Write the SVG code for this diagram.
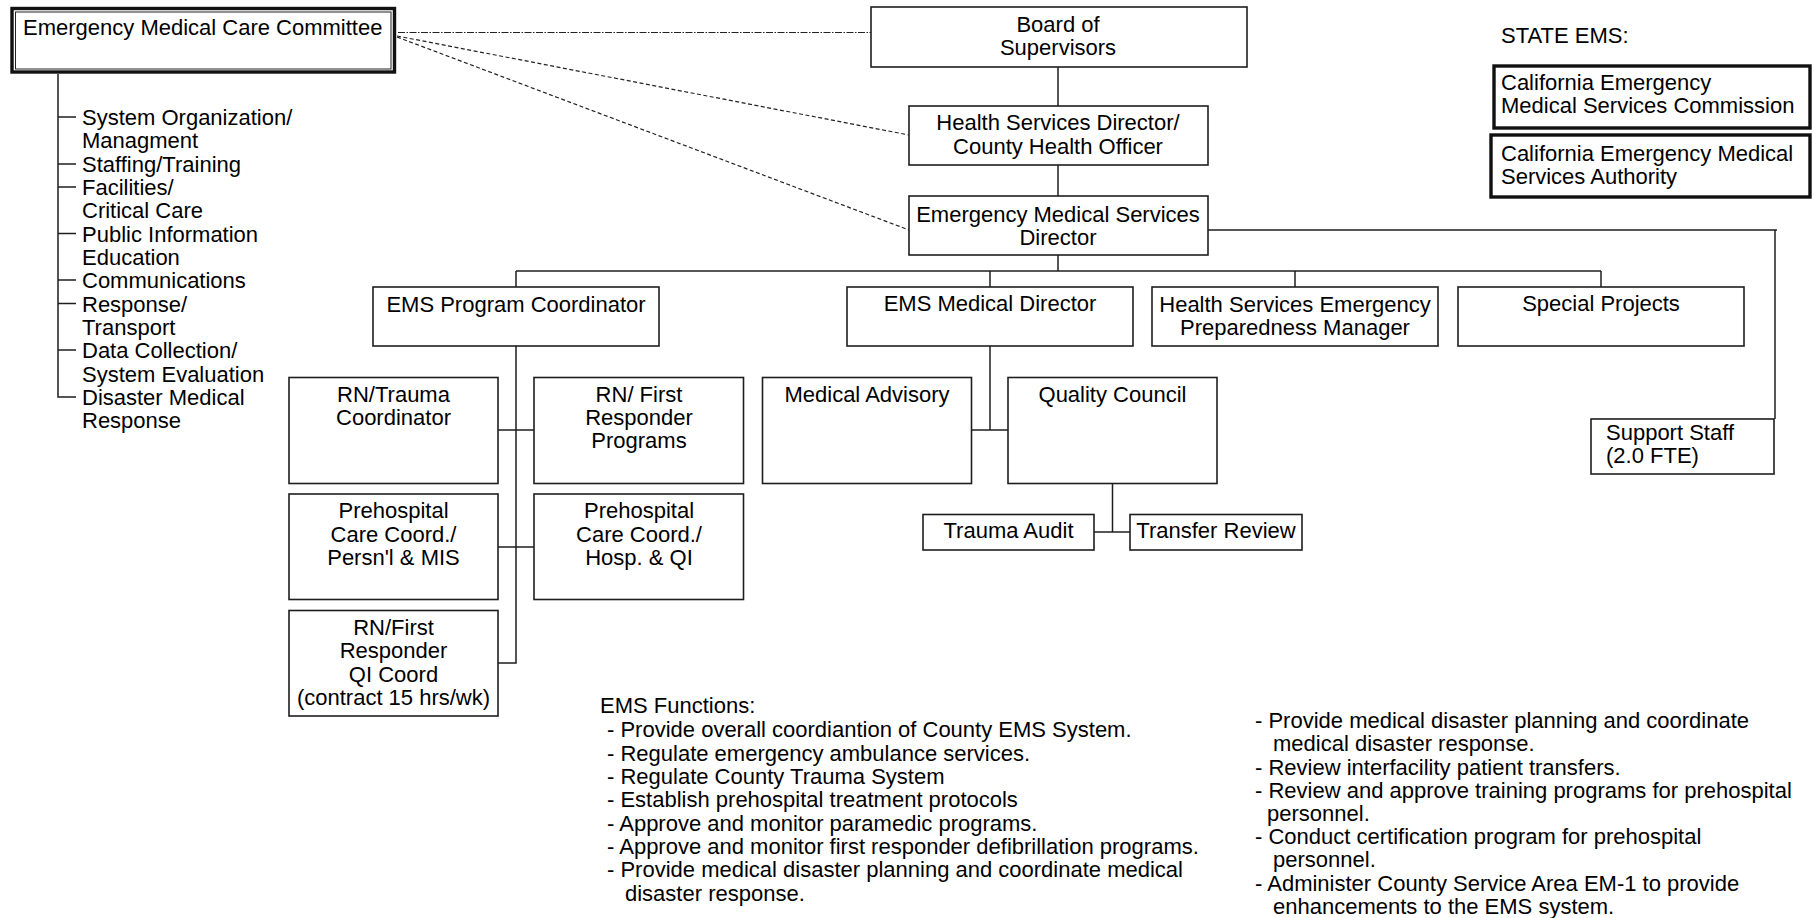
<svg xmlns="http://www.w3.org/2000/svg" width="1814" height="918" viewBox="0 0 1814 918">
<style>
.bx{fill:#fff;stroke:#1e1e1e;stroke-width:1.6}
.thk{fill:#fff;stroke:#111;stroke-width:3.4}
.ln{fill:none;stroke:#1e1e1e;stroke-width:1.5}
.dsh{fill:none;stroke:#222;stroke-width:1.2;stroke-dasharray:4 2.5}
.dd{fill:none;stroke:#222;stroke-width:1.2;stroke-dasharray:7 1.5 1.5 1.5}
text{font-family:"Liberation Sans",Arial,sans-serif;font-size:22px;fill:#000}
.c{text-anchor:middle}
</style>
<rect width="1814" height="918" fill="#fff"/>

<g id="connectors">
  <line class="dd" x1="398" y1="32.5" x2="871" y2="32.5"/>
  <line class="dsh" x1="397" y1="36" x2="909" y2="135"/>
  <line class="dsh" x1="397" y1="37" x2="909" y2="230"/>
  <line class="ln" x1="1058" y1="67" x2="1058" y2="106"/>
  <line class="ln" x1="1058" y1="165" x2="1058" y2="196"/>
  <line class="ln" x1="1058" y1="255" x2="1058" y2="271"/>
  <line class="ln" x1="516" y1="271" x2="1601" y2="271"/>
  <line class="ln" x1="516" y1="271" x2="516" y2="287"/>
  <line class="ln" x1="990" y1="271" x2="990" y2="287"/>
  <line class="ln" x1="1295" y1="271" x2="1295" y2="287"/>
  <line class="ln" x1="1601" y1="271" x2="1601" y2="287"/>
  <polyline class="ln" points="1208,230 1777,230"/>
  <line class="ln" x1="1775" y1="230" x2="1775" y2="419"/>
  <polyline class="ln" points="516,346 516,663 498,663"/>
  <line class="ln" x1="498" y1="430" x2="534" y2="430"/>
  <line class="ln" x1="498" y1="547" x2="534" y2="547"/>
  <line class="ln" x1="990" y1="346" x2="990" y2="430"/>
  <line class="ln" x1="971" y1="430" x2="1008" y2="430"/>
  <line class="ln" x1="1112.5" y1="483" x2="1112.5" y2="532"/>
  <line class="ln" x1="1094" y1="532" x2="1130" y2="532"/>
  <polyline class="ln" points="58,74 58,397 76,397"/>
  <line class="ln" x1="58" y1="117" x2="76" y2="117"/>
  <line class="ln" x1="58" y1="164" x2="76" y2="164"/>
  <line class="ln" x1="58" y1="187" x2="76" y2="187"/>
  <line class="ln" x1="58" y1="233.5" x2="76" y2="233.5"/>
  <line class="ln" x1="58" y1="280" x2="76" y2="280"/>
  <line class="ln" x1="58" y1="303.5" x2="76" y2="303.5"/>
  <line class="ln" x1="58" y1="350" x2="76" y2="350"/>
</g>

<g id="emcc">
  <rect class="thk" x="12" y="8.5" width="382.5" height="63.5"/>
  <rect fill="none" stroke="#222" stroke-width="1" x="15.5" y="12" width="375.5" height="57"/>
  <text x="23" y="35">Emergency Medical Care Committee</text>
</g>

<g id="emcc-functions">
  <text x="82" y="125">System Organization/</text>
  <text x="82" y="148.3">Managment</text>
  <text x="82" y="171.7">Staffing/Training</text>
  <text x="82" y="195">Facilities/</text>
  <text x="82" y="218.3">Critical Care</text>
  <text x="82" y="241.7">Public Information</text>
  <text x="82" y="265">Education</text>
  <text x="82" y="288.3">Communications</text>
  <text x="82" y="311.7">Response/</text>
  <text x="82" y="335">Transport</text>
  <text x="82" y="358.3">Data Collection/</text>
  <text x="82" y="381.7">System Evaluation</text>
  <text x="82" y="405">Disaster Medical</text>
  <text x="82" y="428.3">Response</text>
</g>

<g id="board">
  <rect class="bx" x="871" y="7" width="376" height="60"/>
  <text class="c" x="1058" y="32">Board of</text>
  <text class="c" x="1058" y="55">Supervisors</text>
</g>

<g id="health-director">
  <rect class="bx" x="909" y="106" width="299" height="59"/>
  <text class="c" x="1058" y="130">Health Services Director/</text>
  <text class="c" x="1058" y="154">County Health Officer</text>
</g>

<g id="ems-director">
  <rect class="bx" x="909" y="196" width="299" height="59"/>
  <text class="c" x="1058" y="221.5">Emergency Medical Services</text>
  <text class="c" x="1058" y="244.5">Director</text>
</g>

<g id="state-ems">
  <text x="1501" y="43">STATE EMS:</text>
</g>
<g id="commission">
  <rect class="thk" x="1494" y="66" width="316" height="62"/>
  <text x="1501" y="90">California Emergency</text>
  <text x="1501" y="113">Medical Services Commission</text>
</g>
<g id="authority">
  <rect class="thk" x="1491" y="135" width="319" height="62"/>
  <text x="1501" y="161">California Emergency Medical</text>
  <text x="1501" y="183.5">Services Authority</text>
</g>

<g id="program-coordinator">
  <rect class="bx" x="373" y="287" width="286" height="59"/>
  <text class="c" x="516" y="311.5">EMS Program Coordinator</text>
</g>
<g id="medical-director">
  <rect class="bx" x="847" y="287" width="286" height="59"/>
  <text class="c" x="990" y="311">EMS Medical Director</text>
</g>
<g id="preparedness-manager">
  <rect class="bx" x="1152" y="287" width="286" height="59"/>
  <text class="c" x="1295" y="311.5">Health Services Emergency</text>
  <text class="c" x="1295" y="334.5">Preparedness Manager</text>
</g>
<g id="special-projects">
  <rect class="bx" x="1458" y="287" width="286" height="59"/>
  <text class="c" x="1601" y="311">Special Projects</text>
</g>

<g id="rn-trauma">
  <rect class="bx" x="289" y="377.5" width="209" height="106"/>
  <text class="c" x="393.5" y="401.7">RN/Trauma</text>
  <text class="c" x="393.5" y="425">Coordinator</text>
</g>
<g id="rn-first-responder">
  <rect class="bx" x="534" y="377.5" width="209.5" height="106"/>
  <text class="c" x="639" y="401.7">RN/ First</text>
  <text class="c" x="639" y="425">Responder</text>
  <text class="c" x="639" y="448.3">Programs</text>
</g>
<g id="prehospital-persnl">
  <rect class="bx" x="289" y="494" width="209" height="105.5"/>
  <text class="c" x="393.5" y="518.3">Prehospital</text>
  <text class="c" x="393.5" y="541.5">Care Coord./</text>
  <text class="c" x="393.5" y="565">Persn'l &amp; MIS</text>
</g>
<g id="prehospital-hosp">
  <rect class="bx" x="534" y="494" width="209.5" height="105.5"/>
  <text class="c" x="639" y="518.3">Prehospital</text>
  <text class="c" x="639" y="541.5">Care Coord./</text>
  <text class="c" x="639" y="565">Hosp. &amp; QI</text>
</g>
<g id="rn-qi">
  <rect class="bx" x="289" y="610.5" width="209" height="105.5"/>
  <text class="c" x="393.5" y="635">RN/First</text>
  <text class="c" x="393.5" y="658.3">Responder</text>
  <text class="c" x="393.5" y="681.7">QI Coord</text>
  <text class="c" x="393.5" y="705">(contract 15 hrs/wk)</text>
</g>

<g id="medical-advisory">
  <rect class="bx" x="762.5" y="377.5" width="209" height="106"/>
  <text class="c" x="867" y="401.7">Medical Advisory</text>
</g>
<g id="quality-council">
  <rect class="bx" x="1008" y="377.5" width="209" height="106"/>
  <text class="c" x="1112.5" y="401.7">Quality Council</text>
</g>
<g id="trauma-audit">
  <rect class="bx" x="923" y="514.5" width="171" height="35.5"/>
  <text class="c" x="1008.5" y="538.3">Trauma Audit</text>
</g>
<g id="transfer-review">
  <rect class="bx" x="1130" y="514.5" width="172" height="35.5"/>
  <text class="c" x="1216" y="538.3">Transfer Review</text>
</g>

<g id="support-staff">
  <rect class="bx" x="1591" y="419" width="183" height="55"/>
  <text x="1606" y="440">Support Staff</text>
  <text x="1606" y="463">(2.0 FTE)</text>
</g>

<g id="ems-functions">
  <text x="600" y="713.3">EMS Functions:</text>
  <text x="607" y="737">- Provide overall coordiantion of County EMS System.</text>
  <text x="607" y="760.5">- Regulate emergency ambulance services.</text>
  <text x="607" y="784">- Regulate County Trauma System</text>
  <text x="607" y="807.3">- Establish prehospital treatment protocols</text>
  <text x="607" y="830.6">- Approve and monitor paramedic programs.</text>
  <text x="607" y="853.9">- Approve and monitor first responder defibrillation programs.</text>
  <text x="607" y="877.2">- Provide medical disaster planning and coordinate medical</text>
  <text x="625" y="900.5">disaster response.</text>
</g>

<g id="ems-functions-2">
  <text x="1255" y="728.3">- Provide medical disaster planning and coordinate</text>
  <text x="1273" y="751.3">medical disaster response.</text>
  <text x="1255" y="774.5">- Review interfacility patient transfers.</text>
  <text x="1255" y="797.7">- Review and approve training programs for prehospital</text>
  <text x="1267" y="820.8">personnel.</text>
  <text x="1255" y="844">- Conduct certification program for prehospital</text>
  <text x="1273" y="867.2">personnel.</text>
  <text x="1255" y="890.5">- Administer County Service Area EM-1 to provide</text>
  <text x="1273" y="913.5">enhancements to the EMS system.</text>
</g>
</svg>
